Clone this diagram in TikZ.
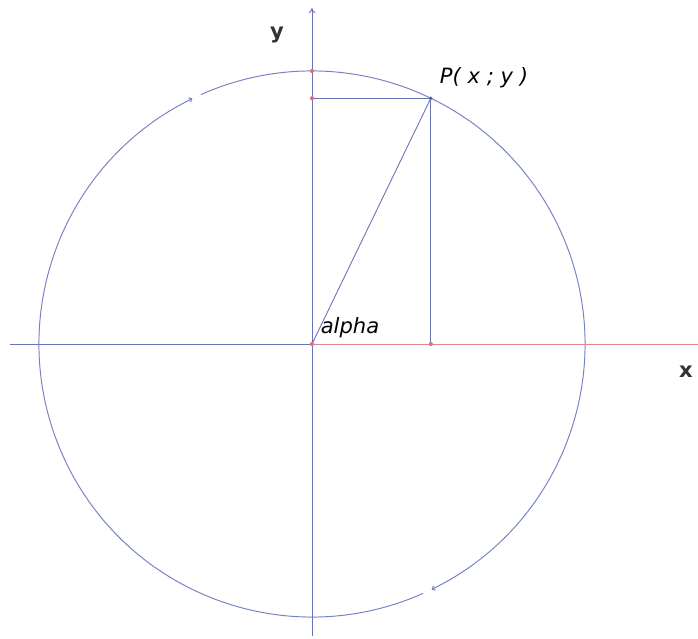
\documentclass[tikz,border=0pt]{standalone}
\usepackage{fontspec}
\setsansfont{DejaVu Sans}
\usetikzlibrary{arrows.meta,calc}
\definecolor{axisblue}{RGB}{104,114,180}
\definecolor{circleblue}{RGB}{118,128,196}
\definecolor{pointred}{RGB}{214,90,110}
\definecolor{labelgray}{RGB}{50,50,50}

\begin{document}
\begin{tikzpicture}[
  >=Latex,
  x=0.02cm, y=0.02cm,
  axisline/.style={draw=axisblue, line width=0.5pt},
  redline/.style={draw=pointred!75, line width=0.5pt},
  circleline/.style={draw=circleblue, line width=0.55pt},
  guide/.style={draw=axisblue, line width=0.5pt},
  dotmark/.style={circle, fill=pointred!85, inner sep=0pt, minimum size=2.4pt},
  axislabel/.style={font=\sffamily\bfseries\large, text=labelgray},
  ptlabel/.style={font=\sffamily\itshape\large, text=black}
]
\useasboundingbox (-312,-295) rectangle (386,344);

\coordinate (origin) at (0,0);
\coordinate (xleft) at (-302,0);
\coordinate (xright) at (386,0);
\coordinate (ybottom) at (0,-292);
\coordinate (ytop) at (0,336);
\coordinate (pointp) at (64.2:273);
\coordinate (footx) at (pointp |- origin);
\coordinate (footy) at (pointp -| origin);
\coordinate (topy) at (0,273);

% unit circle, drawn clockwise in two arcs
\draw[circleline, -{To[length=2pt,width=3pt]}] (294:273) arc (294:116:273);
\draw[circleline, -{To[length=2pt,width=3pt]}] (114:273) arc (114:-64:273);

% axes
\draw[axisline] (xleft) -- (origin);
\draw[redline] (origin) -- (xright);
\draw[axisline, -{To[length=3pt,width=4pt]}] (ybottom) -- (ytop);

% projections of P
\draw[guide] (footy) -- (pointp);
\draw[guide] (pointp) -- (footx);
\draw[guide] (origin) -- (pointp);

\node[dotmark] (dotorigin) at (origin) {};
\node[dotmark] (dotfootx) at (footx) {};
\node[dotmark] (dotfooty) at (footy) {};
\node[dotmark] (dottopy) at (topy) {};
\node[dotmark, fill=axisblue!80!black, minimum size=2pt] (dotp) at (pointp) {};

\node[axislabel] (ylabel) at (-35,309) {y};
\node[axislabel] (xlabel) at (374,-28) {x};
\node[ptlabel] (plabel) at (172,266) {P( x ; y )};
\node[ptlabel] (alphalabel) at (38,16) {alpha};
\end{tikzpicture}
\end{document}
